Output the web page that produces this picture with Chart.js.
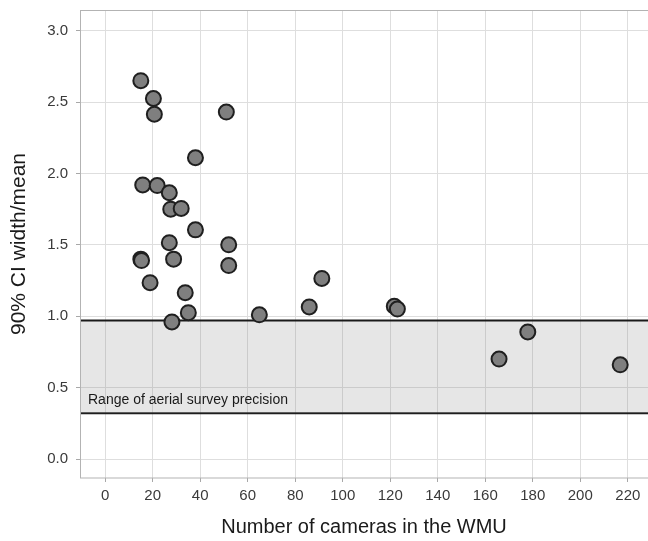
<!DOCTYPE html>
<html>
<head>
<meta charset="utf-8">
<script src="https://cdn.jsdelivr.net/npm/chart.js@4/dist/chart.umd.min.js"></script>
<style>
  html, body { margin: 0; padding: 0; background: #fff; }
  #wrap { width: 648px; height: 541px; position: relative; }
</style>
</head>
<body>
<div id="wrap"><canvas id="cvChart"></canvas></div>
<script>
// cameras per WMU vs relative CI width
const cameras = [15, 20.3, 20.7, 51, 38, 15.8, 21.9, 27, 27.6, 32, 38, 27, 52, 15, 15.3, 28.8, 52,
                 18.9, 33.7, 35, 28.1, 64.9, 85.9, 91.2, 121.7, 123, 165.8, 177.9, 216.8];
const ciWidth = [2.65, 2.525, 2.415, 2.43, 2.11, 1.92, 1.915, 1.865, 1.75, 1.755, 1.605, 1.515, 1.50, 1.40, 1.39, 1.40, 1.355,
                 1.235, 1.165, 1.025, 0.96, 1.01, 1.065, 1.265, 1.07, 1.05, 0.70, 0.89, 0.66];

// range of aerial survey precision
const bandLow = 0.32;
const bandHigh = 0.97;
const bandLabel = 'Range of aerial survey precision';

const xRange = [-10.6, 228.5];
const yRange = [-0.133, 3.145];

const font = '"Liberation Sans", Arial, sans-serif';

const points = cameras.map((c, i) => ({ x: c, y: ciWidth[i] }));

const noPad = s => {
    s.paddingLeft = 0; s.paddingRight = 0;
    s.paddingTop = 0; s.paddingBottom = 0;
};

const framePlugin = {
    id: 'frame',
    afterDatasetsDraw(chart) {
        const { ctx, chartArea, scales } = chart;
        ctx.save();
        ctx.fillStyle = '#1a1a1a';
        ctx.font = '14px ' + font;
        ctx.textBaseline = 'middle';
        ctx.fillText(bandLabel, chartArea.left + 8, scales.y.getPixelForValue(0.41));
        ctx.strokeStyle = '#b3b3b3';
        ctx.lineWidth = 1;
        ctx.strokeRect(chartArea.left + 0.5, chartArea.top + 0.5, chartArea.width + 5, chartArea.height - 0.5);
        ctx.restore();
    }
};

const ctx = document.getElementById('cvChart');
new Chart(ctx, {
    type: 'scatter',
    data: {
        datasets: [
            {
                label: 'WMU',
                data: points,
                pointRadius: 7.5,
                pointBackgroundColor: '#7f7f7f',
                pointBorderColor: '#1f1f1f',
                pointBorderWidth: 2
            },
            {
                type: 'line',
                label: 'upper',
                data: xRange.map(x => ({ x: x, y: bandHigh })),
                borderColor: '#1a1a1a',
                borderWidth: 2,
                pointRadius: 0,
                fill: '+1',
                backgroundColor: 'rgba(128,128,128,0.2)'
            },
            {
                type: 'line',
                label: 'lower',
                data: xRange.map(x => ({ x: x, y: bandLow })),
                borderColor: '#1a1a1a',
                borderWidth: 2,
                pointRadius: 0,
                fill: false
            }
        ]
    },
    options: {
        responsive: true,
        maintainAspectRatio: false,
        animation: false,
        layout: { autoPadding: false, padding: { top: 10, right: 0, left: 0, bottom: 0 } },
        plugins: { legend: { display: false }, tooltip: { enabled: false } },
        scales: {
            x: {
                type: 'linear',
                min: xRange[0],
                max: xRange[1],
                afterFit: s => { noPad(s); s.height = 63; },
                border: { display: false },
                grid: { color: '#dedede', lineWidth: 1, tickLength: 4, tickColor: '#a8a8a8' },
                ticks: {
                    stepSize: 20,
                    includeBounds: false,
                    padding: 5,
                    color: '#3a3a3a',
                    font: { family: font, size: 15 }
                },
                title: {
                    display: true,
                    text: 'Number of cameras in the WMU',
                    color: '#1a1a1a',
                    font: { family: font, size: 20 },
                    padding: { top: 0, bottom: 2 }
                }
            },
            y: {
                min: yRange[0],
                max: yRange[1],
                afterFit: s => { noPad(s); s.width = 80; },
                border: { display: false },
                grid: { color: '#dedede', lineWidth: 1, tickLength: 4, tickColor: '#a8a8a8' },
                ticks: {
                    stepSize: 0.5,
                    includeBounds: false,
                    padding: 8,
                    color: '#3a3a3a',
                    font: { family: font, size: 15 },
                    callback: v => v.toFixed(1)
                },
                title: {
                    display: true,
                    text: '90% CI width/mean',
                    color: '#1a1a1a',
                    font: { family: font, size: 21 },
                    padding: { top: 7, bottom: 0 }
                }
            }
        }
    },
    plugins: [framePlugin]
});
</script>
</body>
</html>
